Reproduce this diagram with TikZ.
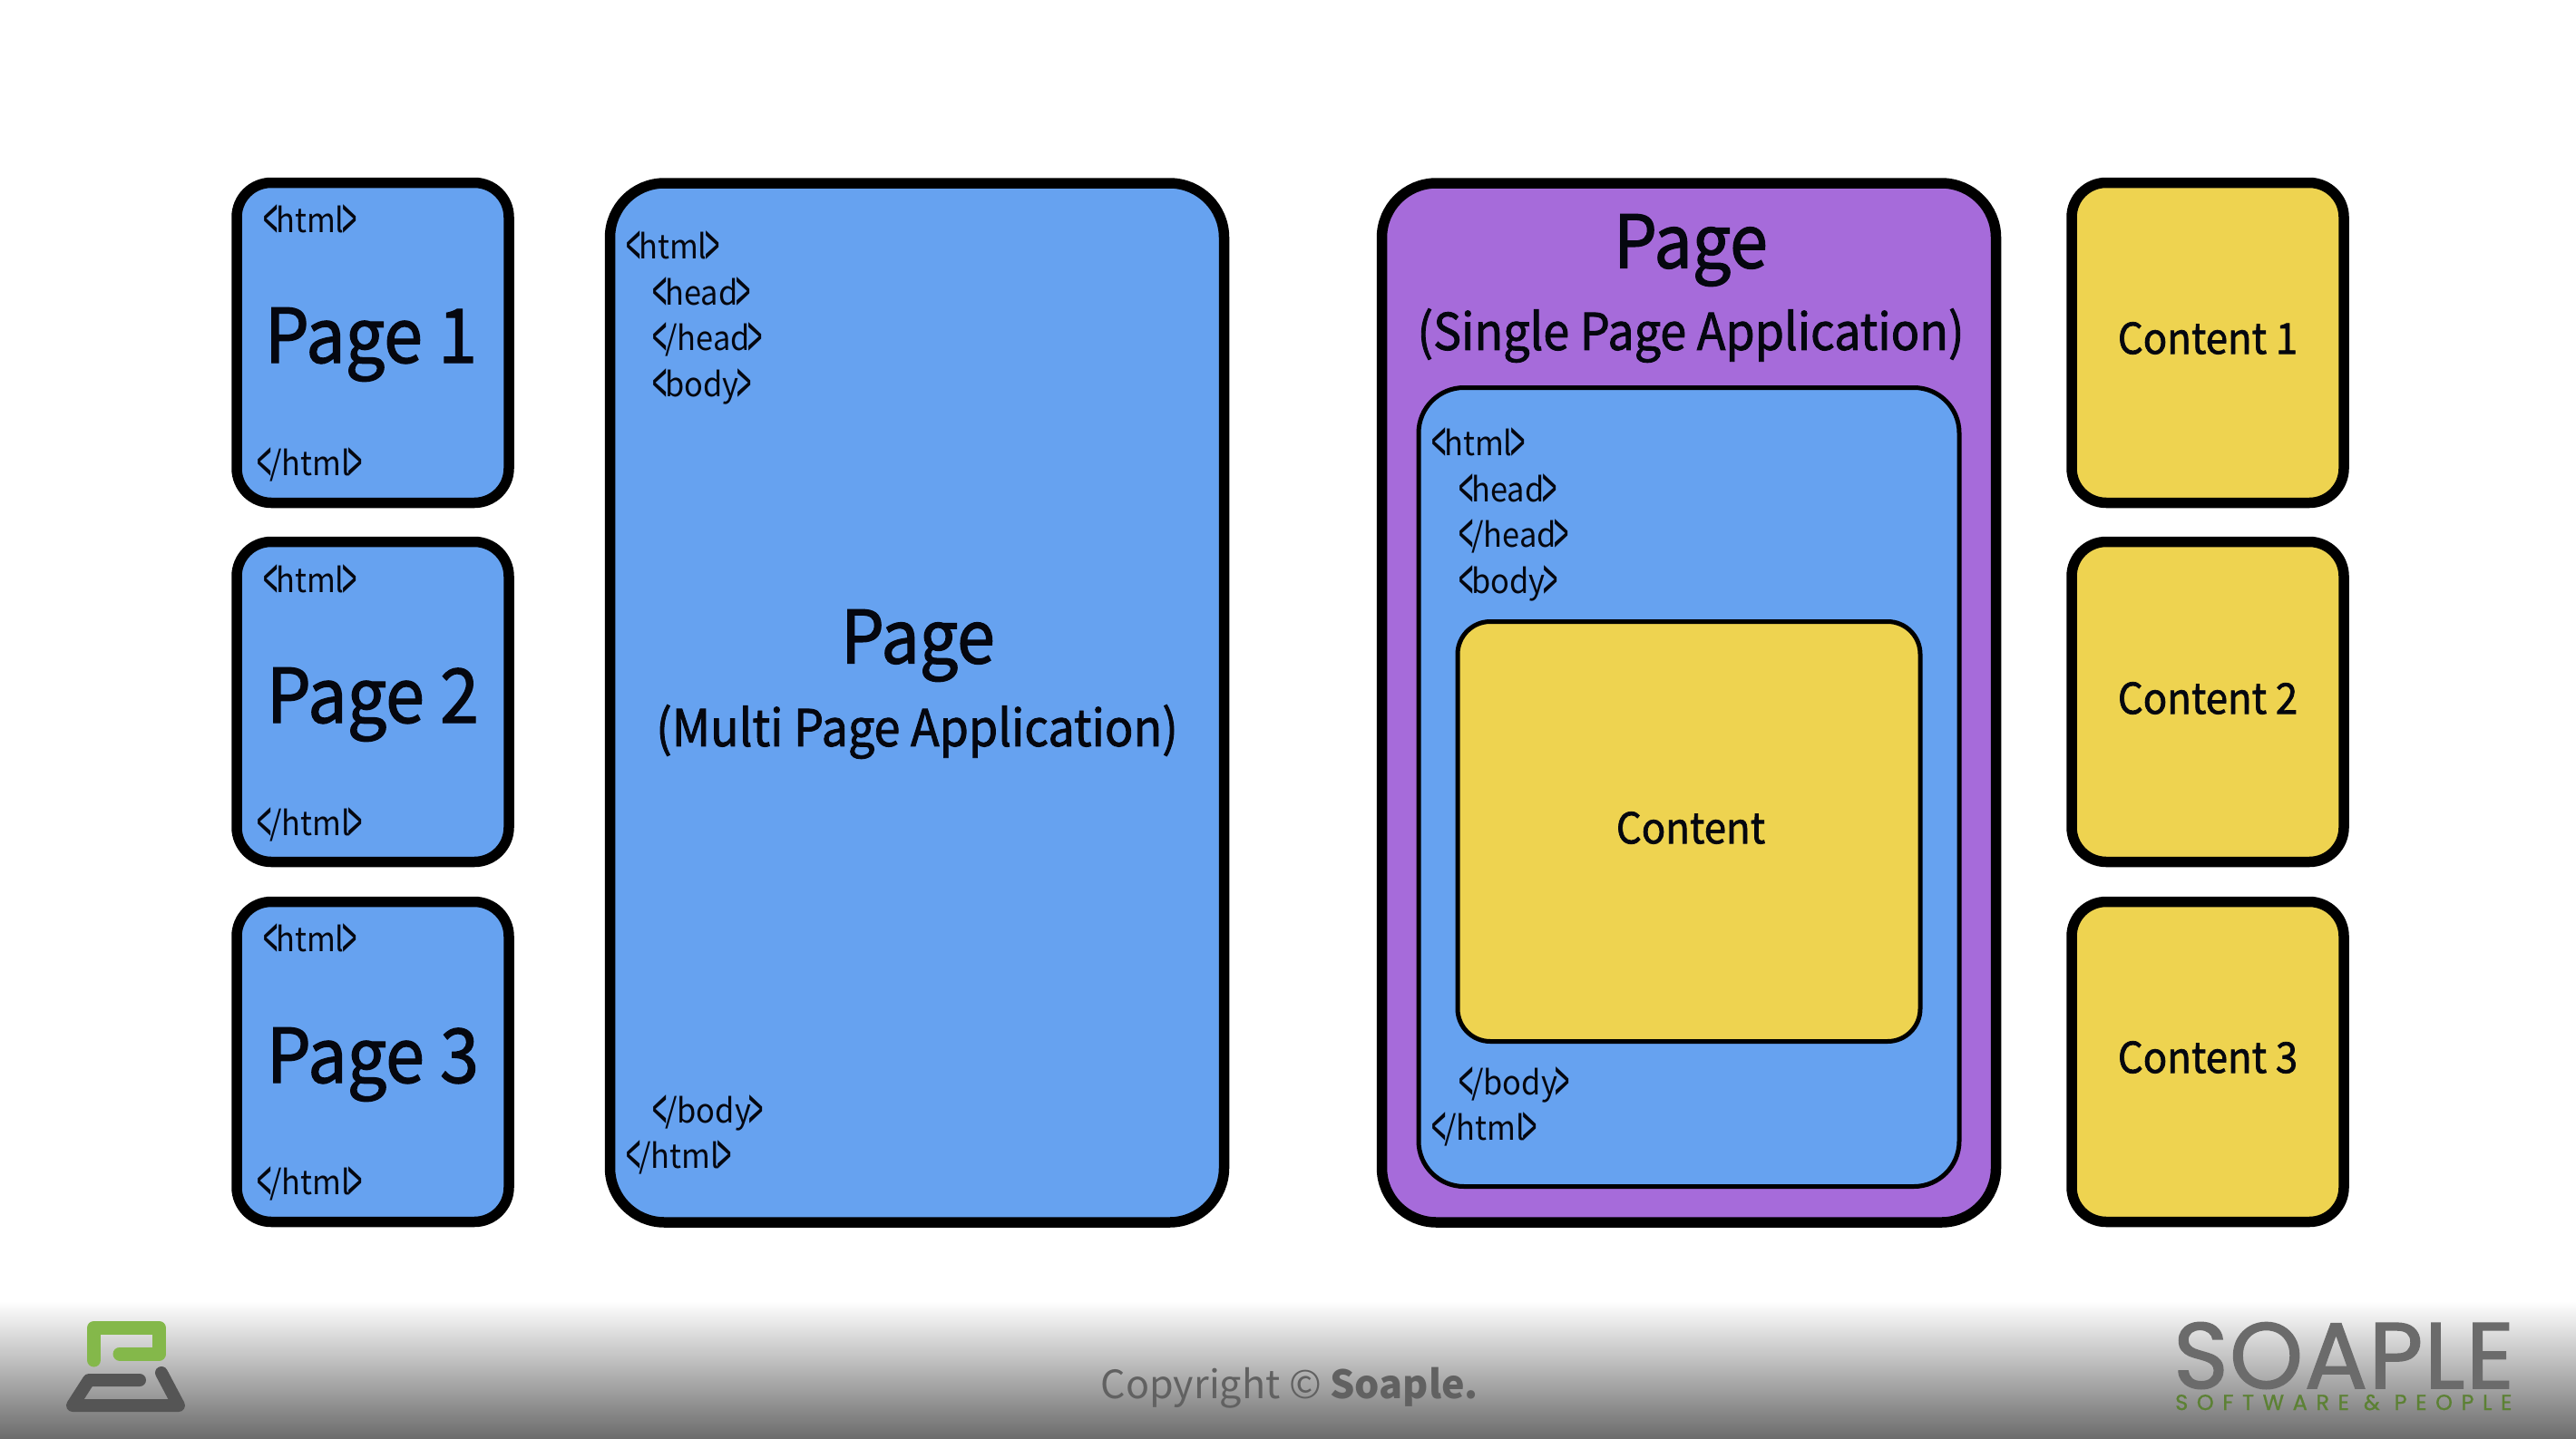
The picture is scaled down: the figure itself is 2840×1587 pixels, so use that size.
\documentclass[tikz,border=0pt]{standalone}
\usepackage{graphicx}
\usepackage{fontspec}
\setmainfont{Noto Sans CJK KR}[FakeStretch=0.93]
\newfontfamily\heavyfont[FakeBold=1.5,FakeStretch=0.93]{Noto Sans CJK KR}
\newfontfamily\copyfont{Noto Sans CJK KR}
\newfontfamily\logofont[FakeBold=1.5,LetterSpace=1.5]{Poppins}
\newfontfamily\subfont[LetterSpace=40,FakeBold=1]{Poppins}
\definecolor{pgblue}{HTML}{66A2F0}
\definecolor{pgpurple}{HTML}{A66BDA}
\definecolor{pgyellow}{HTML}{EED350}
\definecolor{txtdark}{HTML}{05070F}
\definecolor{logoG}{HTML}{84B84A}
\definecolor{logoD}{HTML}{555555}
\newcommand{\htag}[1]{\raisebox{-.32em}{\scalebox{.85}[1.9]{<}}\kern-.06em#1\kern-.06em\raisebox{-.32em}{\scalebox{.85}[1.9]{>}}}
\tikzset{
  x=1pt,y=-1pt,
  thickbox/.style={draw=black,line width=11.5pt,rounded corners=38pt,minimum width=300pt,minimum height=353pt,inner sep=0pt},
  bigbox/.style={draw=black,line width=11.5pt,rounded corners=60pt,minimum width=677pt,minimum height=1146pt,inner sep=0pt},
  thinbox/.style={draw=black,line width=5pt,inner sep=0pt},
  tagtext/.style={anchor=base west,inner sep=0pt,text=txtdark,font=\fontsize{37}{37}\selectfont},
  pagelabel/.style={inner sep=0pt,text=txtdark,font=\heavyfont\fontsize{83}{83}\selectfont},
  sublabel/.style={inner sep=0pt,text=txtdark,font=\heavyfont\fontsize{56}{56}\selectfont},
  contentlabel/.style={inner sep=0pt,text=txtdark,font=\heavyfont\fontsize{47}{47}\selectfont},
  logogreen/.style={draw=logoG,line width=15pt,line cap=round,line join=round},
  logogray/.style={draw=logoD,line width=14pt,line cap=round,line join=round},
}
\begin{document}
\begin{tikzpicture}
\useasboundingbox (0,0) rectangle (2840,1587);
\fill[white] (0,0) rectangle (2840,1587);
\shade[top color=white,bottom color=white!42!black] (0,1435) rectangle (2840,1587);
% left pages
\node[thickbox,fill=pgblue] (p1) at (411,378) {};
\node[thickbox,fill=pgblue] (p2) at (411,774) {};
\node[thickbox,fill=pgblue] (p3) at (411,1171) {};
\node[pagelabel] (p1t) at (409,380) {Page 1};
\node[pagelabel] (p2t) at (411,777) {Page 2};
\node[pagelabel] (p3t) at (411,1174) {Page 3};
\node[tagtext] (p1a) at (290,256) {\htag{html}};
\node[tagtext] (p1b) at (283,524) {\htag{/html}};
\node[tagtext] (p2a) at (290,653) {\htag{html}};
\node[tagtext] (p2b) at (283,921) {\htag{/html}};
\node[tagtext] (p3a) at (290,1049) {\htag{html}};
\node[tagtext] (p3b) at (283,1317) {\htag{/html}};
% MPA
\node[bigbox,fill=pgblue] (mpa) at (1011,775) {};
\node[pagelabel,font=\heavyfont\fontsize{81}{81}\selectfont] (mpat) at (1012,712) {Page};
\node[sublabel] (mpas) at (1011,807) {(Multi Page Application)};
\node[tagtext] (m1) at (690,285) {\htag{html}};
\node[tagtext] (m2) at (719,336) {\htag{head}};
\node[tagtext] (m3) at (719,386) {\htag{/head}};
\node[tagtext] (m4) at (719,437) {\htag{body}};
\node[tagtext] (m5) at (719,1238) {\htag{/body}};
\node[tagtext] (m6) at (690,1288) {\htag{/html}};
% SPA
\node[bigbox,fill=pgpurple] (spa) at (1862,775) {};
\node[pagelabel,font=\heavyfont\fontsize{81}{81}\selectfont] (spat) at (1864,276) {Page};
\node[sublabel] (spas) at (1864,370) {(Single Page Application)};
\node[thinbox,fill=pgblue,rounded corners=50pt,minimum width=596pt,minimum height=881pt] (spab) at (1862,868) {};
\node[thinbox,fill=pgyellow,rounded corners=36pt,minimum width=510pt,minimum height=463pt] (spac) at (1862,917) {};
\node[contentlabel] (spact) at (1864,913) {Content};
\node[tagtext] (s1) at (1578,502) {\htag{html}};
\node[tagtext] (s2) at (1608,553) {\htag{head}};
\node[tagtext] (s3) at (1608,603) {\htag{/head}};
\node[tagtext] (s4) at (1608,654) {\htag{body}};
\node[tagtext] (s5) at (1608,1207) {\htag{/body}};
\node[tagtext] (s6) at (1578,1257) {\htag{/html}};
% right contents
\node[thickbox,fill=pgyellow] (c1) at (2434,378) {};
\node[thickbox,fill=pgyellow] (c2) at (2434,774) {};
\node[thickbox,fill=pgyellow] (c3) at (2434,1171) {};
\node[contentlabel] (c1t) at (2434,373) {Content 1};
\node[contentlabel] (c2t) at (2434,770) {Content 2};
\node[contentlabel] (c3t) at (2434,1166) {Content 3};
% footer
\draw[logogreen] (103.5,1500) -- (103.5,1464.5) -- (175.5,1464.5) -- (175.5,1493) -- (132,1493);
\draw[logogray] (154,1522) -- (98,1522) -- (80,1550) -- (197,1550) -- (178,1514);
\node[anchor=base,inner sep=0pt,text=black!62,font=\copyfont\fontsize{43}{43}\selectfont] (copy) at (1422,1542) {Copyright © {\bfseries Soaple.}};
\node[anchor=base west,inner sep=0pt,text=black!58,font=\logofont\fontsize{103}{103}\selectfont] (soaple) at (2396,1531) {SOAPLE};
\node[anchor=base west,inner sep=0pt,text=logoG!70!black,font=\subfont\fontsize{24}{24}\selectfont] (soft) at (2398,1555) {SOFTWARE \& PEOPLE};
\end{tikzpicture}
\end{document}
